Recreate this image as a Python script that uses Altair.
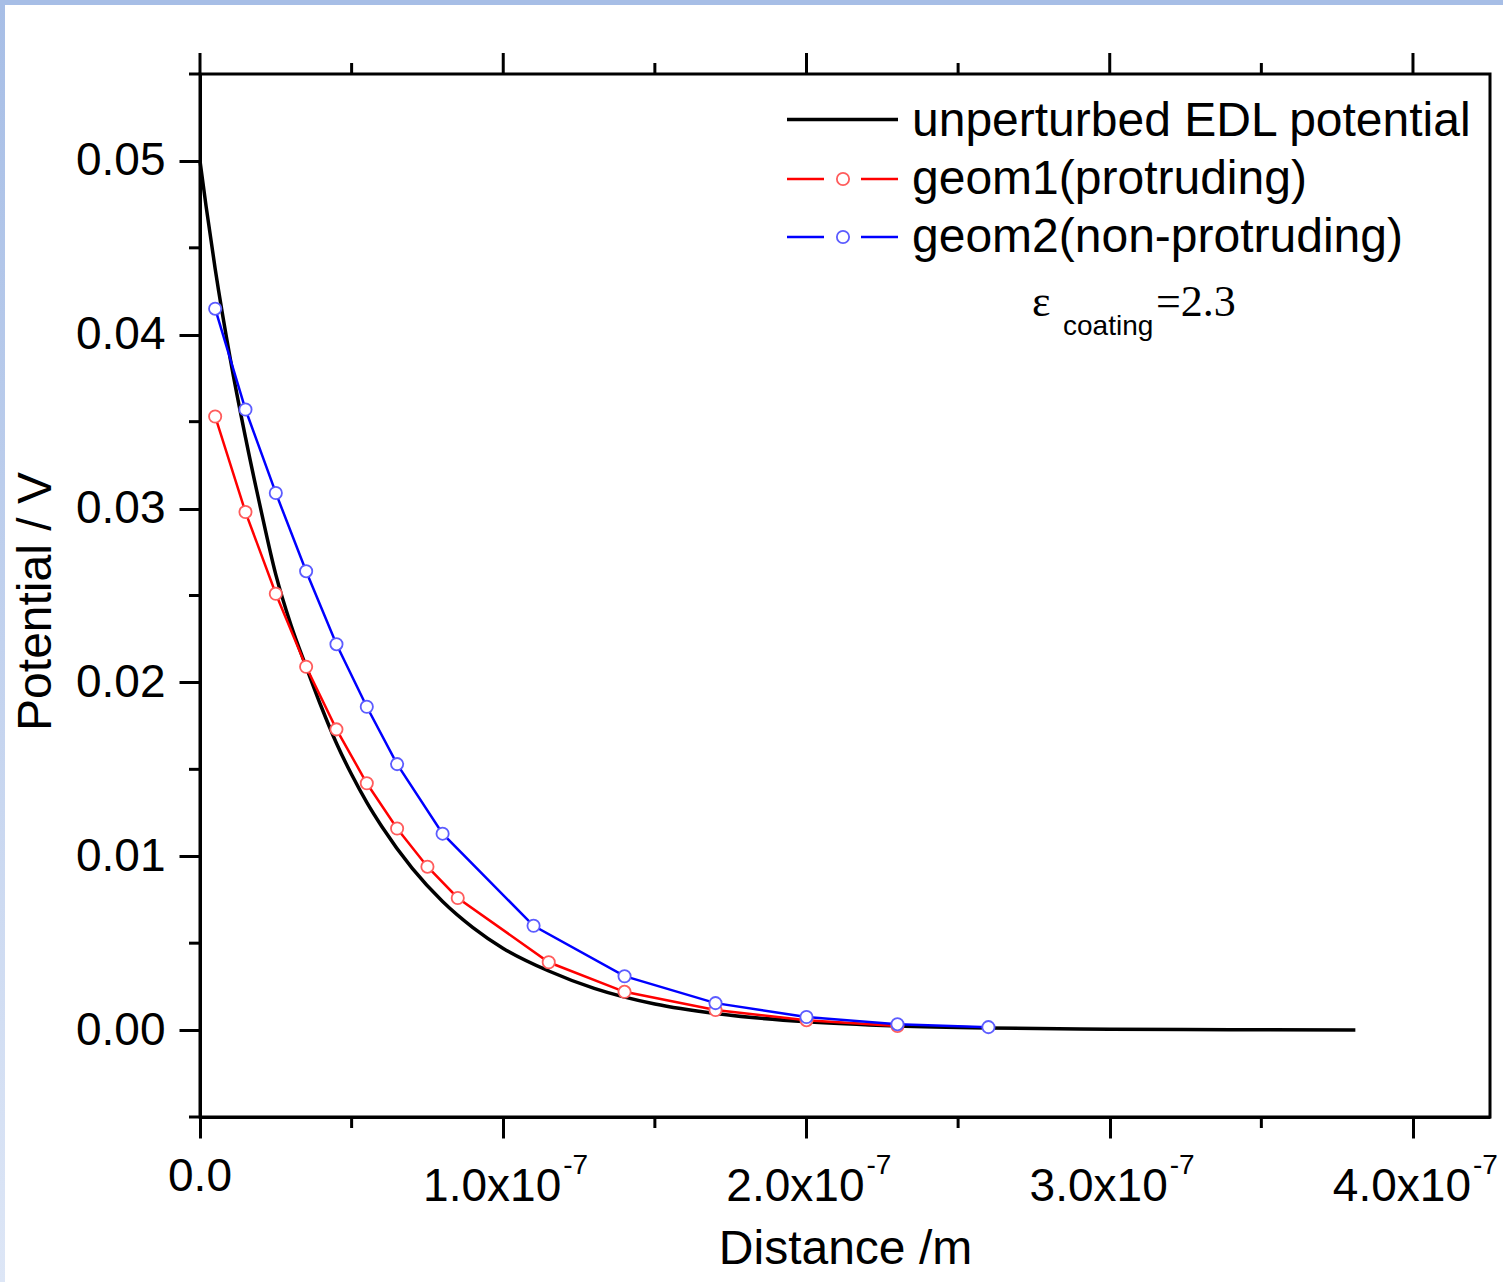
import altair as alt
import pandas as pd

# ---------------- data (distance in nm, potential in V) ----------------
unpert_dist = [0, 2, 5, 10, 15, 20, 25, 30, 35, 40, 45, 50, 55, 60, 70, 80, 90,
               100, 115, 130, 150, 170, 200, 230, 260, 300, 340, 381]
unpert_pot = [0.0500, 0.0474, 0.0438, 0.0386, 0.0341, 0.0300, 0.0262, 0.0233, 0.0209,
              0.0186, 0.0165, 0.0147, 0.0131, 0.0117, 0.0093, 0.0074, 0.0059,
              0.0047, 0.0034, 0.0024, 0.0015, 0.00095, 0.00048, 0.00024, 0.00012,
              0.00005, 0.00002, 0.00001]

geom1_dist = [5, 15, 25, 35, 45, 55, 65, 75, 85, 115, 140, 170, 200, 230]
geom1_pot = [0.0353, 0.0298, 0.0251, 0.0209, 0.0173, 0.0142, 0.0116, 0.0094,
             0.0076, 0.0039, 0.0022, 0.00115, 0.00057, 0.00023]

geom2_dist = [5, 15, 25, 35, 45, 55, 65, 80, 110, 140, 170, 200, 230, 260]
geom2_pot = [0.0415, 0.0357, 0.0309, 0.0264, 0.0222, 0.0186, 0.0153, 0.0113,
             0.0060, 0.0031, 0.00155, 0.00075, 0.00034, 0.00017]

x_major = [0, 100, 200, 300, 400]
x_minor = [50, 150, 250, 350]
x_main_labels = ["0.0", "1.0x10", "2.0x10", "3.0x10", "4.0x10"]
x_sup_labels = ["", "-7", "-7", "-7", "-7"]
y_major = [0.0, 0.01, 0.02, 0.03, 0.04, 0.05]
y_minor = [-0.005, 0.005, 0.015, 0.025, 0.035, 0.045, 0.055]

legend_labels = ["unperturbed EDL potential", "geom1(protruding)", "geom2(non-protruding)"]

W, H = 1290, 1043
FONT = "Liberation Sans"

x_scale = alt.Scale(domain=[0, 425.4], nice=False, zero=False)
y_scale = alt.Scale(domain=[-0.005, 0.055], nice=False, zero=False)

x_enc = alt.X("dist:Q", scale=x_scale,
              axis=alt.Axis(values=x_major, labels=False, tickSize=21, tickWidth=3,
                            tickColor="black", domainWidth=3, domainColor="black",
                            grid=False, title="Distance /m", titleFont=FONT,
                            titleFontSize=48, titleFontWeight="normal", titleColor="black",
                            titleY=146, titleBaseline="alphabetic"))
y_enc = alt.Y("pot:Q", scale=y_scale,
              axis=alt.Axis(values=y_major, format=".2f", tickSize=21, tickWidth=3,
                            tickColor="black", domainWidth=3, domainColor="black",
                            labelFont=FONT, labelFontSize=46, labelColor="black",
                            labelPadding=14, grid=False, title="Potential / V",
                            titleFont=FONT, titleFontSize=48, titleFontWeight="normal",
                            titleColor="black", titleX=-150, titleY=527, titleAngle=270,
                            titleBaseline="alphabetic", titleAlign="center"))

one = pd.DataFrame({"a": [0]})

# ---------------- decorative border ----------------
top_band = alt.Chart(one).mark_rect(color="#a7bee6").encode(
    x=alt.value(-200), x2=alt.value(1303), y=alt.value(-74), y2=alt.value(-69))
left_band = alt.Chart(one).mark_rect(
    color=alt.Gradient(gradient="linear",
                       stops=[alt.GradientStop(color="#a7bee6", offset=0),
                              alt.GradientStop(color="#dde6f6", offset=1)],
                       x1=0, x2=0, y1=0, y2=1)).encode(
    x=alt.value(-200), x2=alt.value(-195), y=alt.value(-69), y2=alt.value(1208))

# ---------------- curves ----------------
df_u = pd.DataFrame({"dist": unpert_dist, "pot": unpert_pot})
df_1 = pd.DataFrame({"dist": geom1_dist, "pot": geom1_pot})
df_2 = pd.DataFrame({"dist": geom2_dist, "pot": geom2_pot})

PT = dict(shape="circle", filled=False, fill="white", fillOpacity=1,
          strokeWidth=1.8, size=150, opacity=1)

line_u = alt.Chart(df_u).mark_line(color="black", strokeWidth=3.5, interpolate="monotone").encode(
    x=x_enc, y=y_enc)
line_1 = alt.Chart(df_1).mark_line(color="#ff0000", strokeWidth=2.5).encode(x=x_enc, y=y_enc)
line_2 = alt.Chart(df_2).mark_line(color="#0000ff", strokeWidth=2.5).encode(x=x_enc, y=y_enc)
pts_1 = alt.Chart(df_1).mark_point(stroke="#ff5c5c", **PT).encode(x=x_enc, y=y_enc)
pts_2 = alt.Chart(df_2).mark_point(stroke="#5c5cff", **PT).encode(x=x_enc, y=y_enc)

# ---------------- extra ticks ----------------
df_xmaj = pd.DataFrame({"dist": x_major})
df_xmin = pd.DataFrame({"dist": x_minor})
df_ymin = pd.DataFrame({"pot": y_minor})

top_major = alt.Chart(df_xmaj).mark_rule(color="black", strokeWidth=3).encode(
    x=x_enc, y=alt.value(0), y2=alt.value(-21))
top_minor = alt.Chart(df_xmin).mark_rule(color="black", strokeWidth=3).encode(
    x=x_enc, y=alt.value(0), y2=alt.value(-11))
bot_minor = alt.Chart(df_xmin).mark_rule(color="black", strokeWidth=3).encode(
    x=x_enc, y=alt.value(H), y2=alt.value(H + 11))
left_minor = alt.Chart(df_ymin).mark_rule(color="black", strokeWidth=3).encode(
    y=y_enc, x=alt.value(0), x2=alt.value(-11))

# ---------------- x tick labels ----------------
df_xl = pd.DataFrame({"dist": x_major, "main": x_main_labels, "sup": x_sup_labels})
zero_lab = alt.Chart(df_xl[df_xl["dist"] == 0]).mark_text(
    font=FONT, fontSize=46, color="black", align="center", baseline="alphabetic").encode(
    x=x_enc, y=alt.value(1117), text="main:N")
main_lab = alt.Chart(df_xl[df_xl["dist"] > 0]).mark_text(
    font=FONT, fontSize=46, color="black", align="right", baseline="alphabetic", dx=58).encode(
    x=x_enc, y=alt.value(1127), text="main:N")
sup_lab = alt.Chart(df_xl[df_xl["dist"] > 0]).mark_text(
    font=FONT, fontSize=28, color="black", align="left", baseline="alphabetic", dx=60).encode(
    x=x_enc, y=alt.value(1100), text="sup:N")

# ---------------- legend ----------------
leg = []
leg.append(alt.Chart(one).mark_rule(color="black", strokeWidth=3.5).encode(
    x=alt.value(587), x2=alt.value(698), y=alt.value(45.5)))
for row_y, lc, pc in [(105, "#ff0000", "#ff5c5c"), (163, "#0000ff", "#5c5cff")]:
    leg.append(alt.Chart(one).mark_rule(color=lc, strokeWidth=2.5).encode(
        x=alt.value(587), x2=alt.value(624), y=alt.value(row_y)))
    leg.append(alt.Chart(one).mark_rule(color=lc, strokeWidth=2.5).encode(
        x=alt.value(661), x2=alt.value(698), y=alt.value(row_y)))
    leg.append(alt.Chart(one).mark_point(stroke=pc, **PT).encode(
        x=alt.value(643), y=alt.value(row_y)))
for lab, base in zip(legend_labels, [62, 120, 178]):
    leg.append(alt.Chart(one).mark_text(font=FONT, fontSize=48, color="black", align="left",
                                        baseline="alphabetic", text=lab).encode(
        x=alt.value(712), y=alt.value(base)))

eps = [
    alt.Chart(one).mark_text(font="Liberation Serif", fontSize=44, color="black", align="left",
                             baseline="alphabetic", text="\u03b5").encode(
        x=alt.value(832), y=alt.value(242)),
    alt.Chart(one).mark_text(font=FONT, fontSize=28, color="black", align="left",
                             baseline="alphabetic", text="coating").encode(
        x=alt.value(863), y=alt.value(261)),
    alt.Chart(one).mark_text(font="Liberation Serif", fontSize=44, color="black", align="left",
                             baseline="alphabetic", text="=2.3").encode(
        x=alt.value(956), y=alt.value(242)),
]

chart = alt.layer(
    top_band, left_band,
    line_u, line_1, line_2, pts_1, pts_2,
    top_major, top_minor, bot_minor, left_minor,
    zero_lab, main_lab, sup_lab,
    *leg, *eps,
).properties(
    width=W, height=H,
    autosize=alt.AutoSizeParams(type="none"),
    padding={"left": 200, "top": 74, "right": 13, "bottom": 165},
    background="white",
).configure_view(stroke="black", strokeWidth=3)

chart.save("out.html", embed_options={"renderer": "svg", "actions": False})
